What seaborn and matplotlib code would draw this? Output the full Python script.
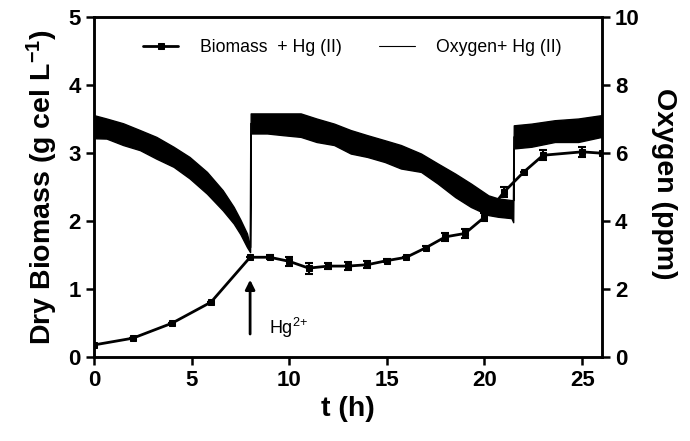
import numpy as np
import pandas as pd
import matplotlib
matplotlib.use("Agg")
import matplotlib.pyplot as plt
import seaborn as sns

# ---- data ----
bio_t = [0, 2, 4, 6, 8, 9, 10, 11, 12, 13, 14, 15, 16, 17, 18, 19, 20, 21, 22, 23, 25, 26]
bio_v = [0.18, 0.28, 0.50, 0.81, 1.47, 1.47, 1.41, 1.31, 1.34, 1.34, 1.36, 1.42, 1.47,
         1.61, 1.77, 1.82, 2.06, 2.43, 2.72, 2.97, 3.02, 3.0]
bio_err = [0.0, 0.0, 0.0, 0.0, 0.0, 0.03, 0.07, 0.08, 0.05, 0.06, 0.05, 0.02, 0.0,
           0.02, 0.06, 0.06, 0.06, 0.08, 0.0, 0.07, 0.07, 0.0]

oxy_t = [0.0, 0.65, 1.5, 2.36, 3.2, 4.08, 4.9, 5.79, 6.6, 7.16, 7.5, 7.84, 8.0,
         8.03, 8.87, 9.7, 10.59, 11.4, 12.3, 13.15, 14.0, 14.9, 15.72, 16.75, 17.6,
         18.5, 19.3, 20.2, 20.7, 21.38, 21.47,
         21.5, 22.4, 23.6, 24.8, 26.0]
oxy_hi = [7.12, 7.02, 6.88, 6.68, 6.48, 6.19, 5.89, 5.45, 4.91, 4.42, 4.05, 3.64, 3.24,
          7.17, 7.17, 7.17, 7.17, 7.02, 6.87, 6.68, 6.53, 6.38, 6.24, 5.99, 5.70,
          5.40, 5.11, 4.76, 4.67, 4.62, 4.62,
          6.82, 6.87, 6.97, 7.02, 7.12]
oxy_lo = [6.44, 6.43, 6.24, 6.09, 5.84, 5.60, 5.26, 4.81, 4.32, 3.93, 3.62, 3.24, 3.09,
          6.58, 6.58, 6.53, 6.48, 6.33, 6.24, 5.99, 5.89, 5.74, 5.55, 5.45, 5.11,
          4.71, 4.42, 4.18, 4.13, 4.09, 3.97,
          6.14, 6.19, 6.33, 6.33, 6.48]

x_ticks = [0, 5, 10, 15, 20, 25]
y_ticks = [0, 1, 2, 3, 4, 5]
y2_ticks = [0, 2, 4, 6, 8, 10]

# ---- style ----
sns.set_style("ticks")
plt.rcParams['font.family'] = ['Liberation Sans', 'DejaVu Sans']
plt.rcParams['mathtext.fontset'] = 'custom'
plt.rcParams['mathtext.rm'] = 'Liberation Sans'
plt.rcParams['mathtext.bf'] = 'Liberation Sans:bold'
plt.rcParams['mathtext.default'] = 'regular'
for k in ['text.color', 'axes.labelcolor', 'xtick.color', 'ytick.color',
          'axes.edgecolor']:
    plt.rcParams[k] = 'black'

fig = plt.figure(figsize=(6.9, 4.41), dpi=100)
ax = fig.add_axes([0.136, 0.190, 0.736, 0.771])
ax2 = ax.twinx()

bio = pd.DataFrame({"t": bio_t, "v": bio_v, "e": bio_err})
oxy = pd.DataFrame({"t": oxy_t, "lo": oxy_lo, "hi": oxy_hi})
oxy["mid"] = (oxy["lo"] + oxy["hi"]) / 2

# biomass
ax.errorbar(bio["t"], bio["v"], yerr=bio["e"], fmt="none", ecolor="black",
            elinewidth=1.5, capsize=3.2, capthick=1.5, zorder=3)
sns.lineplot(data=bio, x="t", y="v", ax=ax, color="black", lw=2, marker="s",
             markersize=5, markeredgecolor="black", label="Biomass  + Hg (II)",
             legend=False, zorder=4)

# oxygen
ax2.fill_between(oxy["t"], oxy["lo"], oxy["hi"], color="black", lw=1.0,
                 edgecolor="black", zorder=2)
sns.lineplot(data=oxy, x="t", y="mid", ax=ax2, color="black", lw=0.8,
             estimator=None, sort=False, label="Oxygen+ Hg (II)", legend=False,
             zorder=2)

ax.set_xlim(0, 26)
ax.set_ylim(0, 5)
ax2.set_ylim(0, 10)
ax.set_xticks(x_ticks)
ax.set_yticks(y_ticks)
ax2.set_yticks(y2_ticks)

fs_tick = 16
for a in (ax, ax2):
    for s in a.spines.values():
        s.set_linewidth(1.8)
        s.set_color("black")
    a.tick_params(direction="out", length=6, width=1.8, labelsize=fs_tick,
                  colors="black")
    for lab in a.get_xticklabels() + a.get_yticklabels():
        lab.set_fontweight("bold")

ax.set_xlabel("t (h)", fontsize=20.5, fontweight="bold", labelpad=3)
ax.set_ylabel(r"Dry Biomass (g cel L$^{\mathbf{-1}}$)", fontsize=20.5,
              fontweight="bold", labelpad=6)
ax2.set_ylabel("Oxygen (ppm)", fontsize=20.5, fontweight="bold", rotation=270,
               labelpad=24)
ax2.yaxis.set_label_coords(1.148, 0.51)

# Hg2+ arrow
ax.annotate("", xy=(8, 1.18), xytext=(8, 0.3),
            arrowprops=dict(arrowstyle="-|>", color="black", lw=2,
                            mutation_scale=14))
ax.text(8.95, 0.43, r"Hg$^{2{+}}$", fontsize=13, va="center", ha="left")

# legend
h1, l1 = ax.get_legend_handles_labels()
h2, l2 = ax2.get_legend_handles_labels()
leg = ax2.legend(h1 + h2, l1 + l2, loc="center", bbox_to_anchor=(0.509, 0.91),
                 ncol=2, frameon=False, fontsize=12.7, handlelength=2.0,
                 columnspacing=2.15, handletextpad=1.2)

fig.savefig("out.png", dpi=100)
